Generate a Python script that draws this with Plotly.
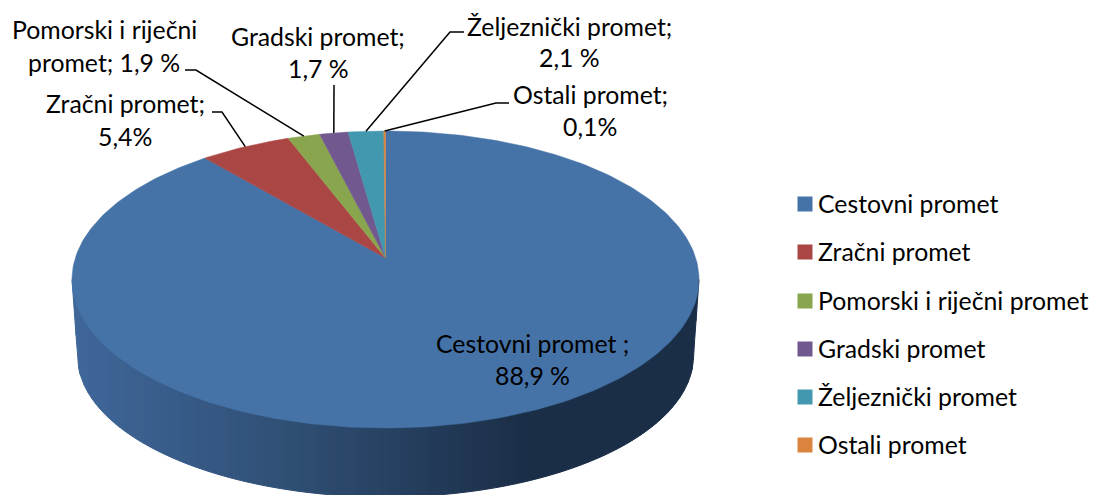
import numpy as np
import plotly.graph_objects as go

categories = ["Cestovni promet", "Zračni promet", "Pomorski i riječni promet",
              "Gradski promet", "Željeznički promet", "Ostali promet"]
shares = [88.9, 5.4, 1.9, 1.7, 2.1, 0.1]
colors = ["#4572A7", "#AA4643", "#89A54E", "#71588F", "#4198AF", "#DB843D"]
label_lines = [
    ["Cestovni promet ;", "88,9 %"],
    ["Zračni promet;", "5,4%"],
    ["Pomorski i riječni", "promet; 1,9 %"],
    ["Gradski promet;", "1,7 %"],
    ["Željeznički promet;", "2,1 %"],
    ["Ostali promet;", "0,1%"],
]
label_x = [532, 125, 104, 318, 569, 590]
label_y = [[343, 375], [103, 136], [29, 62], [36, 68], [26, 57], [94, 126]]
# leader elbows: label end, then knee, the rim end comes from the slice angle
leader_from = [None, [(212, 112), (222, 112)], [(185, 70), (196, 70)],
               [(334, 85)], [(464, 32), (450, 32)], [(509, 103), (496, 103)]]
key_y = [204, 252, 301, 349, 397, 445]

FONT = "Lato"
FONT_SIZE = 24.8
CX, CY, RX, RY = 385.5, 279.5, 313.5, 148.5   # top face ellipse
LOW_CY, LOW_RX, LOW_RY = 356, 308, 141        # bottom rim of the wall
TILT = 0.145                                  # perspective shift of the pie centre
WALL_STOPS = [(72, (64, 104, 155)), (300, (47, 78, 115)), (530, (27, 46, 71)), (699, (27, 46, 71))]


def rim(theta, r=1.0):
    # theta clockwise from north, perspective maps the disc centre onto the apex
    sx, up = r * np.sin(theta), r * np.cos(theta)
    d = 1 + TILT * up
    return (CX + RX * sx * np.sqrt(1 - TILT ** 2) / d,
            CY - RY * (up + TILT) / d)


def wall_bottom(x):
    if abs(x - CX) <= LOW_RX:
        return LOW_CY + LOW_RY * np.sqrt(1 - ((x - CX) / LOW_RX) ** 2)
    edge = (abs(x - CX) - LOW_RX) / (RX - LOW_RX)
    return LOW_CY + (CY - LOW_CY) * edge


fractions = np.array(shares) / sum(shares)
edges = np.concatenate([[0], np.cumsum(fractions)]) * 2 * np.pi
mids = (edges[:-1] + edges[1:]) / 2

fig = go.Figure()

# side wall, strips so the shading runs left to right
strip_x = np.arange(CX - RX, CX + RX, 4.0)
for x0 in strip_x:
    x1 = min(x0 + 4.0, CX + RX)
    rgb = [np.interp((x0 + x1) / 2, [s[0] for s in WALL_STOPS], [s[1][i] for s in WALL_STOPS]) for i in range(3)]
    col = "rgb(%d,%d,%d)" % tuple(rgb)
    xs = np.linspace(x0, x1, 4)
    ys = [wall_bottom(x) for x in xs]
    fig.add_trace(go.Scatter(
        x=list(xs) + [x1, x0], y=ys + [CY, CY], mode="lines", fill="toself",
        fillcolor=col, line=dict(color=col, width=1), showlegend=False, hoverinfo="skip"))

# top face
for i, cat in enumerate(categories):
    t = np.linspace(edges[i], edges[i + 1], max(3, int(fractions[i] * 360)))
    rx_, ry_ = rim(t)
    ax, ay = rim(0.0, 0.0)
    fig.add_trace(go.Scatter(
        x=[ax] + list(rx_) + [ax], y=[ay] + list(ry_) + [ay], mode="lines", fill="toself",
        fillcolor=colors[i], line=dict(color=colors[i], width=0.5), name=cat,
        showlegend=False, hoverinfo="name"))

# leaders
for i, pts in enumerate(leader_from):
    if pts is None:
        continue
    ex, ey = rim(mids[i])
    fig.add_trace(go.Scatter(
        x=[p[0] for p in pts] + [ex], y=[p[1] for p in pts] + [ey], mode="lines",
        line=dict(color="black", width=1.5), showlegend=False, hoverinfo="skip"))

# key on the right, placed by hand: the built in legend can't get this close to the text
fig.add_trace(go.Scatter(
    x=[805] * len(categories), y=key_y, mode="markers", showlegend=False, hoverinfo="skip",
    marker=dict(symbol="square", size=15, color=colors)))
for cat, y in zip(categories, key_y):
    fig.add_annotation(x=819, y=y - 1, text=cat, showarrow=False, xanchor="left", yanchor="middle",
                       xshift=-3, font=dict(family=FONT, size=FONT_SIZE, color="black"))

for i, lines in enumerate(label_lines):
    for line, y in zip(lines, label_y[i]):
        fig.add_annotation(x=label_x[i], y=y, text=line, showarrow=False,
                           xanchor="center", yanchor="middle",
                           font=dict(family=FONT, size=FONT_SIZE, color="black"))

fig.update_layout(
    width=1094, height=495, margin=dict(l=0, r=0, t=0, b=0),
    paper_bgcolor="white", plot_bgcolor="white", showlegend=False,
    font=dict(family=FONT, size=FONT_SIZE, color="black"),
)
fig.update_xaxes(range=[0, 1094], visible=False, fixedrange=True)
fig.update_yaxes(range=[495, 0], visible=False, fixedrange=True)

fig.write_html("out.html", config={"displayModeBar": False},
               post_script="document.body.style.margin='0';")
